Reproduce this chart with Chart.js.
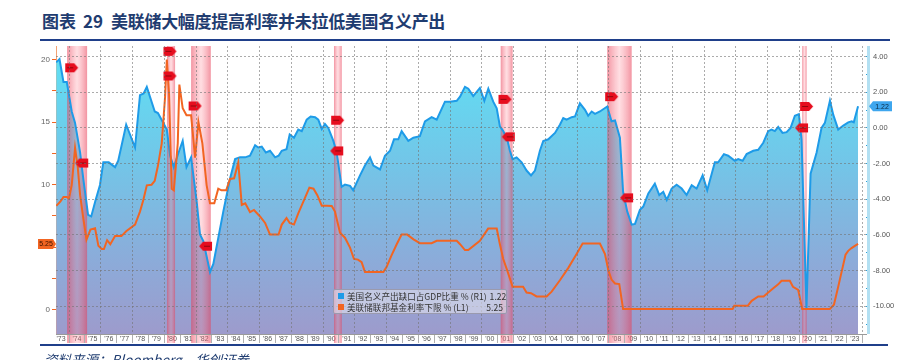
<!DOCTYPE html>
<html>
<head>
<meta charset="utf-8">
<script src="https://cdn.jsdelivr.net/npm/chart.js@4.4.1/dist/chart.umd.min.js"></script>
<style>
  body { margin: 0; width: 920px; height: 360px; background: #fff; position: relative; overflow: hidden; font-family: "Noto Sans CJK SC", sans-serif; }
  #title { position: absolute; left: 42px; top: 12px; font-size: 17px; line-height: 17px; font-weight: bold; color: #1f3c70; white-space: nowrap; }
  #title .n { margin-left: 7px; }
  #title .t { margin-left: 8px; letter-spacing: -0.3px; }
  #topLine { position: absolute; left: 40px; top: 39px; width: 850px; height: 2px; background: #1f3f8a; }
  #bottomLine { position: absolute; left: 40px; top: 344px; width: 848px; height: 2px; background: #1f3f8a; }
  #source { position: absolute; left: 44px; top: 349px; font-size: 13.5px; font-style: italic; color: #1f3c70; white-space: nowrap; }
  #wrap { position: absolute; left: 0; top: 41px; width: 920px; height: 304px; }
  #legend { position: absolute; left: 333px; top: 289px; width: 165px; padding: 1px 3px 1px 4px; background: rgba(226,226,238,0.6); border: 1px solid #9a9aae; border-radius: 2px; font-size: 8.6px; line-height: 10.5px; color: #333; }
  #legend .row { display: flex; align-items: center; white-space: nowrap; }
  #legend .sq { flex: 0 0 6px; width: 6px; height: 6px; margin-right: 3px; }
  #legend .v { margin-left: auto; padding-left: 3px; }
</style>
</head>
<body>
<div id="title"><span>图表</span><span class="n">29</span><span class="t">美联储大幅度提高利率并未拉低美国名义产出</span></div>
<div id="topLine"></div>
<div id="wrap"><canvas id="c" width="920" height="304"></canvas></div>
<div id="legend">
  <div class="row"><span class="sq" style="background:#1e9be8"></span><span>美国名义产出缺口占GDP比重 % (R1)</span><span class="v" id="gapVal"></span></div>
  <div class="row"><span class="sq" style="background:#f26522"></span><span>美联储联邦基金利率下限 % (L1)</span><span class="v" id="rateVal"></span></div>
</div>
<div id="bottomLine"></div>
<div id="source">资料来源：Bloomberg，华创证券</div>
<script>
// US nominal output gap, % of GDP (right axis)
const gapYears = [1973.19, 1973.4, 1973.65, 1973.86, 1974.17, 1974.38, 1974.7, 1974.9, 1975.2, 1975.4, 1975.65, 1975.95,
  1976.16, 1976.5, 1976.9, 1977.1, 1977.6, 1978.16, 1978.47, 1978.7, 1978.9, 1979.4, 1979.6, 1979.94,
  1980.16, 1980.37, 1980.6, 1980.9, 1981.16, 1981.4, 1981.69, 1982.04, 1982.25, 1982.46, 1982.88, 1983.09,
  1983.72, 1984.14, 1984.46, 1984.77, 1985.09, 1985.4, 1985.72, 1985.92, 1986.14, 1986.4, 1986.66, 1986.98,
  1987.2, 1987.4, 1987.7, 1987.9, 1988.17, 1988.44, 1988.66, 1988.97, 1989.22, 1989.5, 1989.7, 1989.92,
  1990.12, 1990.33, 1990.65, 1990.86, 1991.17, 1991.38, 1991.7, 1991.9, 1992.33, 1992.64, 1992.96, 1993.17,
  1993.59, 1993.9, 1994.22, 1994.47, 1994.74, 1994.95, 1995.37, 1995.69, 1996.1, 1996.42, 1996.84, 1997.16,
  1997.68, 1998.0, 1998.42, 1998.63, 1998.94, 1999.15, 1999.46, 1999.88, 2000.16, 2000.41, 2000.72, 2000.94,
  2001.14, 2001.35, 2001.6, 2001.77, 2001.94, 2002.19, 2002.51, 2002.82, 2003.1, 2003.35, 2003.66, 2003.87,
  2004.19, 2004.61, 2004.92, 2005.13, 2005.34, 2005.66, 2005.87, 2006.18, 2006.5, 2006.7, 2006.92, 2007.13,
  2007.44, 2007.9, 2008.17, 2008.39, 2008.7, 2008.9, 2009.16, 2009.44, 2009.65, 2009.96, 2010.17, 2010.49,
  2010.9, 2011.18, 2011.43, 2011.65, 2011.96, 2012.27, 2012.59, 2012.9, 2013.22, 2013.53, 2013.91, 2014.2,
  2014.68, 2014.89, 2015.25, 2015.52, 2015.94, 2016.15, 2016.43, 2016.68, 2017.1, 2017.41, 2017.73, 2018.04,
  2018.25, 2018.46, 2018.67, 2018.94, 2019.2, 2019.45, 2019.72, 2019.97, 2020.14, 2020.45, 2020.71, 2021.09,
  2021.4, 2021.61, 2021.93, 2022.14, 2022.45, 2022.77, 2023.08, 2023.3, 2023.43, 2023.7];
const gapValues = [3.67, 3.86, 2.57, 2.57, 0.92, 0.28, -1.38, -2.85, -4.87, -4.96, -4.13, -3.2,
  -1.93, -1.93, -2.2, -1.84, 0.18, -1.1, 1.84, 1.93, 2.3, 0.92, 0.83, 0.28,
  -0.09, -1.56, -2.2, -1.38, -0.73, -2.2, -1.65, -4.13, -5.97, -6.34, -8.08, -7.62,
  -4.68, -2.85, -1.75, -1.65, -1.65, -1.56, -0.97, -1.1, -1.05, -1.38, -1.28, -1.65,
  -1.56, -1.28, -1.19, -0.37, -0.55, -0.09, -0.18, 0.46, 0.64, 0.6, 0.46, -0.06,
  0.22, 0, -0.73, -1.38, -3.3, -3.18, -3.25, -3.49, -2.66, -2.11, -1.65, -2.11,
  -2.33, -1.56, -1.28, -0.64, -0.64, -0.18, -0.73, -0.55, -0.46, 0.37, 0.6, 0.46,
  1.47, 1.47, 1.52, 1.75, 2.3, 2.2, 1.78, 2.24, 1.52, 2.2, 1.47, 1.1,
  0.09, -0.18, -0.64, -1.28, -1.75, -1.65, -1.93, -2.39, -2.66, -2.39, -1.28, -0.73,
  -0.64, -0.28, 0.18, 0.55, 0.46, 0.6, 0.64, 1.38, 1.01, 0.68, 0.92, 0.79,
  0.92, 1.2, 0.37, 0.42, -0.55, -3.58, -4.68, -5.42, -5.38, -4.59, -4.41, -3.67,
  -3.12, -3.76, -3.58, -4.04, -3.4, -3.18, -3.4, -3.76, -3.21, -3.4, -2.66, -3.49,
  -1.93, -1.93, -1.47, -1.56, -1.84, -1.75, -1.84, -1.47, -1.28, -1.23, -0.83, -0.18,
  -0.09, -0.18, 0.06, -0.28, -0.24, 0, 0.68, 0.77, -0.64, -10.1, -2.57, -1.38,
  0, 0.28, 1.52, 0.73, -0.09, 0.13, 0.31, 0.37, 0.31, 1.22];

// Fed funds target lower bound, % (left axis)
const rateYears = [1973.2, 1973.45, 1973.65, 1973.86, 1974.0, 1974.17, 1974.38, 1974.55, 1974.7, 1974.9, 1975.1, 1975.35,
  1975.64, 1975.85, 1976.06, 1976.2, 1976.4, 1976.6, 1976.9, 1977.3, 1977.6, 1978.16, 1978.47, 1978.68,
  1978.9, 1979.2, 1979.4, 1979.6, 1979.84, 1980.05, 1980.16, 1980.3, 1980.47, 1980.6, 1980.85, 1980.95,
  1981.16, 1981.4, 1981.69, 1981.94, 1982.15, 1982.4, 1982.67, 1982.88, 1983.15, 1983.4, 1983.6, 1983.9,
  1984.14, 1984.4, 1984.66, 1984.88, 1985.1, 1985.4, 1985.65, 1986.03, 1986.35, 1986.66, 1986.97, 1987.2,
  1987.4, 1987.7, 1987.9, 1988.17, 1988.44, 1988.76, 1989.14, 1989.4, 1989.64, 1989.92, 1990.23, 1990.55,
  1990.75, 1991.07, 1991.38, 1991.7, 1991.95, 1992.2, 1992.43, 1992.64, 1993.8, 1994.0, 1994.3, 1994.64,
  1994.95, 1995.3, 1995.7, 1996.1, 1996.84, 1997.16, 1998.42, 1998.63, 1998.94, 1999.15, 1999.88, 2000.4,
  2000.94, 2001.14, 2001.35, 2001.6, 2001.94, 2002.6, 2002.82, 2003.1, 2003.45, 2004.08, 2004.4, 2004.92,
  2005.44, 2005.97, 2006.35, 2007.44, 2007.76, 2007.97, 2008.17, 2008.39, 2008.66, 2008.9, 2015.8, 2015.9,
  2016.75, 2017.0, 2017.41, 2017.75, 2018.04, 2018.36, 2018.67, 2018.88, 2019.4, 2019.6, 2019.93, 2020.18,
  2021.92, 2022.18, 2022.45, 2022.66, 2022.91, 2023.08, 2023.29, 2023.5, 2023.7];
const rateValues = [8.3, 8.63, 9.0, 9.0, 8.9, 9.96, 12.94, 11.4, 9.15, 7.3, 5.6, 6.4,
  6.5, 5.1, 4.84, 4.84, 5.55, 5.23, 5.88, 5.88, 6.27, 6.8, 7.84, 8.76,
  9.94, 9.99, 10.3, 11.5, 13.3, 17.0, 20.0, 17.25, 9.67, 9.54, 13.3, 18.0,
  16.1, 15.55, 15.55, 12.16, 15.0, 13.3, 9.94, 8.5, 8.5, 9.67, 9.54, 9.54,
  10.45, 10.5, 11.76, 8.37, 8.5, 7.8, 7.97, 7.45, 6.93, 6.0, 6.0, 6.0,
  6.8, 7.32, 6.93, 6.8, 7.7, 8.63, 9.75, 9.67, 9.15, 8.31, 8.31, 8.29,
  7.84, 6.14, 5.75, 4.96, 4.05, 4.0, 3.79, 3.0, 3.0, 3.4, 4.3, 5.23,
  6.0, 6.0, 5.62, 5.31, 5.31, 5.5, 5.5, 5.23, 4.76, 4.76, 5.5, 6.48,
  6.48, 5.23, 4.05, 3.14, 1.83, 1.83, 1.36, 1.31, 1.05, 1.05, 1.44, 2.35,
  3.32, 4.44, 5.28, 5.28, 4.44, 3.14, 2.4, 2.09, 2.04, 0.05, 0.05, 0.3,
  0.3, 0.7, 1.05, 1.05, 1.36, 1.7, 2.02, 2.3, 2.3, 1.83, 1.57, 0.05,
  0.05, 0.39, 1.83, 3.0, 4.39, 4.7, 4.92, 5.1, 5.25];

// NBER recessions (shaded bands)
const recessionStart = [1973.88, 1980.17, 1981.69, 1990.69, 2001.19, 2007.9, 2020.18];
const recessionEnd = [1975.14, 1980.68, 1982.93, 1991.18, 2001.94, 2009.44, 2020.46];

// Bloomberg event flags
const flagStartYears = [1974.17, 1980.36, 1980.36, 1981.94, 1990.92, 2001.46, 2008.18, 2020.46];
const flagStartValues = [3.37, 4.29, 2.91, 1.23, 0.43, 1.6, 1.75, 1.2];
const flagEndYears = [1974.8, 1982.6, 1990.86, 2001.67, 2009.12, 2020.14];
const flagEndValues = [-1.97, -6.63, -1.29, -0.5, -3.92, 0.0];

// axis ticks
const leftTicks = [0, 2.5, 5, 7.5, 10, 12.5, 15, 17.5, 20];
const rightTicks = [-11, -10, -9, -8, -7, -6, -5, -4, -3, -2, -1, 0, 1, 2, 3, 4];
const firstYear = 1973, lastYear = 2023;

const BLUE = '#1e9be8';
const ORANGE = '#f26522';

const lastGap = gapValues[gapValues.length - 1];
const lastRate = rateValues[rateValues.length - 1];
document.getElementById('gapVal').textContent = lastGap.toFixed(2);
document.getElementById('rateVal').textContent = lastRate.toFixed(2);

const yearTicks = [];
for (let y = firstYear; y <= lastYear + 1; y++) {
  if (y > firstYear) yearTicks.push(y);
  if (y <= lastYear) yearTicks.push(y + 0.5);
}

function makeFlag(pointRight) {
  const c = document.createElement('canvas');
  c.width = 15; c.height = 11;
  const g = c.getContext('2d');
  g.fillStyle = '#e60d1e';
  g.beginPath();
  if (pointRight) {
    g.moveTo(1, 1); g.lineTo(10, 1); g.lineTo(14, 5.5); g.lineTo(10, 10); g.lineTo(1, 10);
  } else {
    g.moveTo(14, 1); g.lineTo(5, 1); g.lineTo(1, 5.5); g.lineTo(5, 10); g.lineTo(14, 10);
  }
  g.closePath();
  g.fill();
  g.fillStyle = 'rgba(90,0,0,0.6)';
  g.fillRect(pointRight ? 3 : 6, 5, 6, 1);
  return c;
}

const toPoints = (xs, ys) => xs.map((x, i) => ({ x, y: ys[i] }));

const bandPlugin = {
  id: 'bands',
  beforeDatasetDraw(chart, args) {
    if (args.index !== 0) return;
    const ctx = chart.ctx, a = chart.chartArea, sx = chart.scales.x;
    ctx.save();
    ctx.beginPath();
    ctx.rect(a.left, a.top, a.width, a.height + 9);
    ctx.clip();
    recessionStart.forEach((s, i) => {
      const x0 = sx.getPixelForValue(s), x1 = sx.getPixelForValue(recessionEnd[i]);
      const g = ctx.createLinearGradient(x0, 0, x1, 0);
      g.addColorStop(0, 'rgba(232,60,85,0.55)');
      g.addColorStop(0.5, 'rgba(255,135,150,0.28)');
      g.addColorStop(1, 'rgba(232,60,85,0.55)');
      ctx.fillStyle = g;
      ctx.fillRect(x0, a.top, x1 - x0, a.height + 9);
    });
    ctx.restore();
  }
};

const tagPlugin = {
  id: 'tags',
  afterDraw(chart) {
    const ctx = chart.ctx, a = chart.chartArea;
    const yL = chart.scales.y.getPixelForValue(lastRate);
    const yR = chart.scales.y1.getPixelForValue(lastGap);
    ctx.save();
    // light blue right axis bar
    ctx.fillStyle = '#b3e0f2';
    ctx.fillRect(a.right + 1, a.top, 3, a.height);
    ctx.font = '7px "Liberation Sans", sans-serif';
    ctx.textBaseline = 'middle';
    ctx.textAlign = 'center';
    ctx.fillStyle = ORANGE;
    ctx.beginPath();
    ctx.moveTo(38, yL - 5); ctx.lineTo(a.left - 3, yL - 5); ctx.lineTo(a.left, yL);
    ctx.lineTo(a.left - 3, yL + 5); ctx.lineTo(38, yL + 5);
    ctx.closePath(); ctx.fill();
    ctx.fillStyle = '#3a1200';
    ctx.fillText(lastRate.toFixed(2), 46, yL + 0.5);
    ctx.fillStyle = '#3ea6ee';
    ctx.beginPath();
    ctx.moveTo(a.right + 3, yR); ctx.lineTo(a.right + 7, yR - 5); ctx.lineTo(a.right + 26, yR - 5);
    ctx.lineTo(a.right + 26, yR + 5); ctx.lineTo(a.right + 7, yR + 5);
    ctx.closePath(); ctx.fill();
    ctx.fillStyle = '#0a2a44';
    ctx.fillText(lastGap.toFixed(2), a.right + 16, yR + 0.5);
    ctx.restore();
  }
};

const gridGrey = 'rgba(115,115,115,0.6)';
const clear = 'rgba(0,0,0,0)';

new Chart(document.getElementById('c'), {
  type: 'line',
  data: {
    datasets: [
      {
        label: 'gap',
        data: toPoints(gapYears, gapValues),
        yAxisID: 'y1',
        order: 2,
        borderColor: BLUE,
        borderWidth: 2,
        pointRadius: 0,
        tension: 0,
        fill: 'start',
        backgroundColor: ctx => {
          const a = ctx.chart.chartArea;
          if (!a) return clear;
          const g = ctx.chart.ctx.createLinearGradient(0, a.top, 0, a.bottom);
          g.addColorStop(0, '#5de2f5');
          g.addColorStop(0.4, '#72c6e8');
          g.addColorStop(0.75, '#8cabd9');
          g.addColorStop(1, '#9d9bcc');
          return g;
        }
      },
      {
        label: 'rate',
        data: toPoints(rateYears, rateValues),
        yAxisID: 'y',
        order: 1,
        borderColor: ORANGE,
        borderWidth: 2,
        pointRadius: 0,
        tension: 0,
        fill: false
      },
      {
        label: 'flagStart',
        data: toPoints(flagStartYears, flagStartValues),
        yAxisID: 'y1',
        order: 0,
        showLine: false,
        pointStyle: makeFlag(true)
      },
      {
        label: 'flagEnd',
        data: toPoints(flagEndYears, flagEndValues),
        yAxisID: 'y1',
        order: 0,
        showLine: false,
        pointStyle: makeFlag(false)
      }
    ]
  },
  options: {
    responsive: false,
    animation: false,
    devicePixelRatio: 1,
    layout: { padding: { top: 1, left: 0, right: 0, bottom: 0 } },
    plugins: { legend: { display: false }, tooltip: { enabled: false } },
    scales: {
      x: {
        type: 'linear',
        min: 1973.18,
        max: 2024.2,
        afterBuildTicks: s => { s.ticks = yearTicks.map(v => ({ value: v })); },
        afterFit: s => { s.height = 11; s.paddingLeft = 0; s.paddingRight = 0; },
        ticks: {
          autoSkip: false, maxRotation: 0, minRotation: 0, padding: -8,
          font: { size: 7, family: '"Liberation Sans", sans-serif' }, color: '#555',
          callback: v => Number.isInteger(v) ? '' : "'" + String(Math.floor(v)).slice(2)
        },
        grid: {
          z: 1,
          tickLength: 9,
          color: ctx => (ctx.tick && Number.isInteger(ctx.tick.value) && ctx.tick.value % 2 === 0) ? gridGrey : clear,
          tickColor: ctx => (ctx.tick && Number.isInteger(ctx.tick.value)) ? '#b0b0b0' : clear
        },
        border: { z: 1, color: '#9a9a9a', dash: [2, 2] }
      },
      y: {
        position: 'left',
        min: -1.95,
        max: 21.08,
        afterBuildTicks: s => { s.ticks = leftTicks.map(v => ({ value: v })); },
        afterFit: s => { s.width = 56; s.paddingTop = 0; s.paddingBottom = 0; },
        ticks: {
          autoSkip: false, padding: 2,
          font: { size: 8, family: '"Liberation Sans", sans-serif' }, color: '#666',
          callback: v => v % 5 === 0 ? String(v) : ''
        },
        grid: { drawOnChartArea: false, tickColor: ORANGE, tickLength: 4 },
        border: { color: '#f4a273', width: 1 }
      },
      y1: {
        position: 'right',
        min: -11.55,
        max: 4.59,
        afterBuildTicks: s => { s.ticks = rightTicks.map(v => ({ value: v })); },
        afterFit: s => { s.width = 54; s.paddingTop = 0; s.paddingBottom = 0; },
        ticks: {
          autoSkip: false, padding: 3,
          font: { size: 7.5, family: '"Liberation Sans", sans-serif' }, color: '#555',
          callback: v => v % 2 === 0 ? v.toFixed(2) : ''
        },
        grid: {
          z: 1,
          tickLength: 4,
          color: ctx => (ctx.tick && ctx.tick.value % 2 === 0) ? gridGrey : clear,
          tickColor: '#2a9fd6'
        },
        border: { display: false, dash: [2, 2] }
      }
    }
  },
  plugins: [bandPlugin, tagPlugin]
});
</script>
</body>
</html>
